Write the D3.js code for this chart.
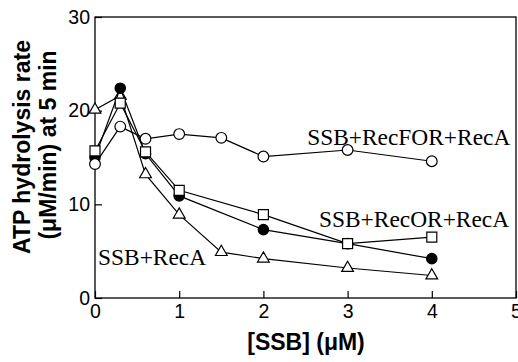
<!DOCTYPE html>
<html>
<head>
<meta charset="utf-8">
<script src="https://cdn.jsdelivr.net/npm/d3@7"></script>
<style>
  body { margin: 0; background: #fff; }
  svg { display: block; }
</style>
</head>
<body>
<div id="chart"></div>
<script>
// data
const xFOR = [0, 0.3, 0.6, 1, 1.5, 2, 3, 4];
const recFOR = [14.3, 18.3, 17.0, 17.5, 17.1, 15.1, 15.8, 14.6];

const xOR = [0, 0.3, 0.6, 1, 2, 3, 4];
const recOR = [15.7, 20.8, 15.6, 11.5, 8.9, 5.8, 6.5];

const xFilled = [0, 0.3, 0.6, 1, 2, 3, 4];
const filled = [15.0, 22.4, 15.4, 10.9, 7.3, 5.8, 4.2];

const xRecA = [0, 0.3, 0.6, 1, 1.5, 2, 3, 4];
const recA = [20.1, 21.6, 13.2, 8.9, 4.9, 4.2, 3.2, 2.4];

const xTicks = [0, 1, 2, 3, 4, 5];
const yTicks = [0, 10, 20, 30];

const labels = [
  { text: 'SSB+RecFOR+RecA', x: 2.52, y: 16.3 },
  { text: 'SSB+RecOR+RecA', x: 2.66, y: 7.6 },
  { text: 'SSB+RecA', x: 0.036, y: 3.5 }
];

// settings
const width = 518;
const height = 362;
const margin = { top: 17, right: 2, bottom: 64, left: 95 };

const svg = d3.select('#chart')
  .append('svg')
  .attr('width', width)
  .attr('height', height);

const x = d3.scaleLinear()
  .domain([0, 5])
  .range([margin.left, width - margin.right]);

const y = d3.scaleLinear()
  .domain([0, 30])
  .range([height - margin.bottom, margin.top]);

// frame
svg.append('rect')
  .attr('x', x(0))
  .attr('y', y(30))
  .attr('width', x(5) - x(0))
  .attr('height', y(0) - y(30))
  .attr('fill', 'none')
  .attr('stroke', '#000')
  .attr('stroke-width', 1.3);

const xAxis = svg.append('g')
  .attr('transform', `translate(0, ${y(0)})`)
  .call(d3.axisBottom(x).tickValues(xTicks).tickSize(-7).tickPadding(6).tickFormat(d3.format('d')));

const yAxis = svg.append('g')
  .attr('transform', `translate(${x(0)}, 0)`)
  .call(d3.axisLeft(y).tickValues(yTicks).tickSize(-7).tickPadding(5).tickFormat(d3.format('d')));

[xAxis, yAxis].forEach(g => {
  g.select('.domain').remove();
  g.selectAll('line').attr('stroke', '#000').attr('stroke-width', 1.2);
  g.selectAll('text')
    .attr('font-family', 'Liberation Sans, Arial, sans-serif')
    .attr('font-size', 19.5)
    .attr('fill', '#000');
});

const line = d3.line()
  .x(d => x(d[0]))
  .y(d => y(d[1]));

const series = [
  { xs: xRecA, ys: recA, symbol: d3.symbolTriangle, size: 60, fill: '#fff' },
  { xs: xFilled, ys: filled, symbol: d3.symbolCircle, size: 85, fill: '#000' },
  { xs: xOR, ys: recOR, symbol: d3.symbolSquare, size: 100, fill: '#fff' },
  { xs: xFOR, ys: recFOR, symbol: d3.symbolCircle, size: 90, fill: '#fff' }
];

series.forEach(s => {
  const pts = s.xs.map((v, i) => [v, s.ys[i]]);
  const g = svg.append('g');
  g.append('path')
    .attr('d', line(pts))
    .attr('fill', 'none')
    .attr('stroke', '#000')
    .attr('stroke-width', 1.2);
  g.selectAll('path.pt')
    .data(pts)
    .join('path')
    .attr('class', 'pt')
    .attr('transform', d => `translate(${x(d[0])}, ${y(d[1])})`)
    .attr('d', d3.symbol().type(s.symbol).size(s.size))
    .attr('fill', s.fill)
    .attr('stroke', '#000')
    .attr('stroke-width', 1.2);
});

// series labels
svg.append('g')
  .selectAll('text')
  .data(labels)
  .join('text')
  .attr('x', d => x(d.x))
  .attr('y', d => y(d.y))
  .attr('font-family', 'Liberation Serif, Times New Roman, serif')
  .attr('font-size', 23.4)
  .attr('fill', '#000')
  .text(d => d.text);

// axis titles
svg.append('text')
  .attr('x', 306)
  .attr('y', 350)
  .attr('text-anchor', 'middle')
  .attr('font-family', 'Liberation Sans, Arial, sans-serif')
  .attr('font-weight', 'bold')
  .attr('font-size', 23)
  .text('[SSB] (μM)');

const yTitle = svg.append('text')
  .attr('transform', 'rotate(-90)')
  .attr('text-anchor', 'middle')
  .attr('font-family', 'Liberation Sans, Arial, sans-serif')
  .attr('font-weight', 'bold')
  .attr('font-size', 23);
yTitle.append('tspan').attr('x', -147).attr('y', 30).text('ATP hydrolysis rate');
yTitle.append('tspan').attr('x', -145).attr('y', 56).text('(μM/min) at 5 min');
</script>
</body>
</html>
